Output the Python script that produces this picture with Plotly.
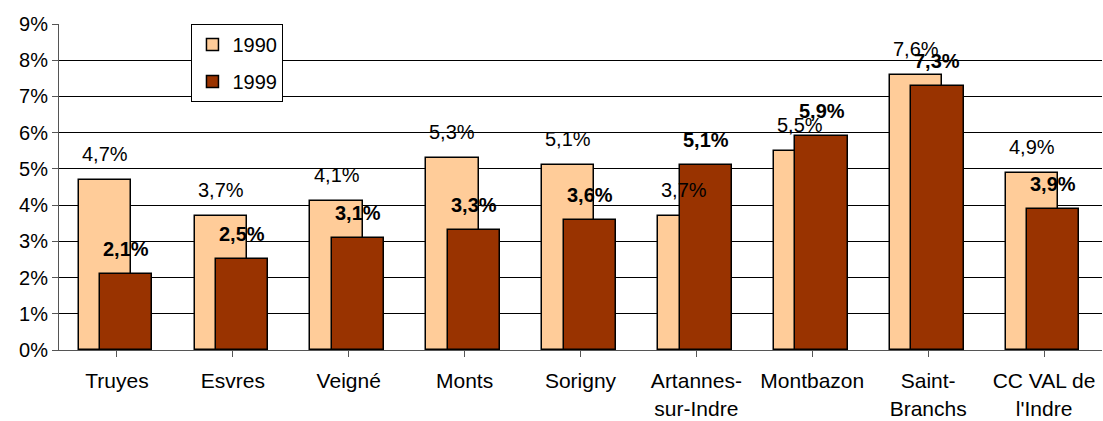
import plotly.graph_objects as go

communes = ["Truyes", "Esvres", "Veigné", "Monts", "Sorigny", "Artannes-<br>sur-Indre",
            "Montbazon", "Saint-<br>Branchs", "CC VAL de<br>l'Indre"]
taux_1990 = [4.7, 3.7, 4.1, 5.3, 5.1, 3.7, 5.5, 7.6, 4.9]
taux_1999 = [2.1, 2.5, 3.1, 3.3, 3.6, 5.1, 5.9, 7.3, 3.9]
y_ticks = [0, 1, 2, 3, 4, 5, 6, 7, 8, 9]

FONT = "Liberation Sans, Arial, sans-serif"
BAR_W = 0.45
OFF_1990 = -0.33
OFF_1999 = -0.145

idx = list(range(len(communes)))

fig = go.Figure()
fig.add_trace(go.Bar(
    x=idx, y=taux_1990, name="1990",
    width=BAR_W, offset=OFF_1990,
    marker=dict(color="#FFCC99", line=dict(color="#000000", width=1.5)),
    legendgroup="a",
))
fig.add_trace(go.Bar(
    x=idx, y=taux_1999, name="1999",
    width=BAR_W, offset=OFF_1999,
    marker=dict(color="#993300", line=dict(color="#000000", width=1.5)),
    legendgroup="b",
))

def fr(v):
    return f"{v:.1f}".replace(".", ",") + "%"

annotations = []
for i, a in enumerate(taux_1990):
    annotations.append(dict(
        x=i + OFF_1990 + BAR_W / 2, y=a, xref="x", yref="y",
        text=fr(a), showarrow=False, yanchor="middle", yshift=26,
        font=dict(family=FONT, size=20, color="#000000"),
    ))
for i, b in enumerate(taux_1999):
    annotations.append(dict(
        x=i + OFF_1999 + BAR_W / 2, y=b, xref="x", yref="y",
        text="<b>" + fr(b) + "</b>", showarrow=False, yanchor="middle", yshift=25,
        font=dict(family=FONT, size=20, color="#000000"),
    ))

fig.update_layout(
    width=1103, height=421,
    margin=dict(l=59, r=1, t=24, b=71),
    paper_bgcolor="white", plot_bgcolor="white",
    barmode="overlay",
    bargap=0,
    font=dict(family=FONT, size=20, color="#000000"),
    showlegend=True,
    legend=dict(
        x=0.127, y=1, xanchor="left", yanchor="top",
        bgcolor="white", bordercolor="#000000", borderwidth=1,
        font=dict(family=FONT, size=20),
        tracegroupgap=8,
        itemwidth=30,
    ),
    annotations=annotations,
)
fig.update_xaxes(
    range=[-0.5, len(communes) - 0.5],
    tickmode="array", tickvals=idx, ticktext=communes,
    showgrid=False, showline=True, linecolor="#555555", linewidth=1,
    ticks="outside", ticklen=6, tickcolor="#555555",
    tickfont=dict(family=FONT, size=21),
    ticklabelstandoff=6,
)
fig.update_yaxes(
    range=[0, 9], tickvals=y_ticks, ticktext=[f"{t}%" for t in y_ticks],
    showgrid=True, gridcolor="#000000", gridwidth=1,
    showline=True, linecolor="#555555", linewidth=1,
    ticks="outside", ticklen=6, tickcolor="#555555",
    tickfont=dict(family=FONT, size=20),
    zeroline=False,
)

fig.write_html("out.html")
